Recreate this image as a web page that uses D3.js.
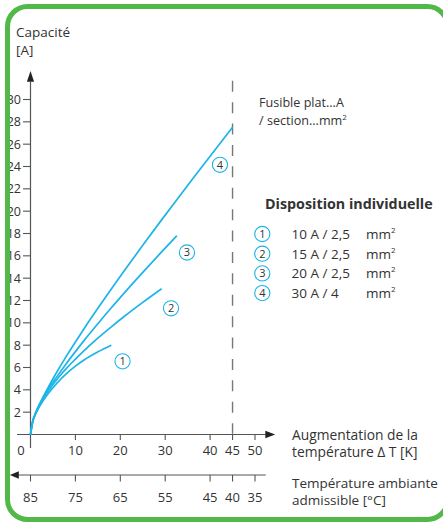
<!DOCTYPE html>
<html><head><meta charset="utf-8">
<script src="https://cdn.jsdelivr.net/npm/d3@7"></script>
<style>
body{margin:0;background:#fff}
text{font-family:"Open Sans", Lato, sans-serif; fill:#333}
</style>
</head><body>
<svg id="chart" width="443" height="526"></svg>
<script>
// ---- data ----
const dT1 = [0, 0.5, 1, 2, 4, 6, 8, 10, 12, 15, 18];
const amp1 = [0, 1.15, 1.7, 2.5, 3.7, 4.65, 5.45, 6.12, 6.7, 7.4, 8.0];
const dT2 = [0, 0.5, 1, 2, 4, 6, 8, 10, 12, 15, 18, 21, 25, 29.2];
const amp2 = [0, 1.18, 1.75, 2.6, 3.93, 5.0, 5.92, 6.75, 7.54, 8.63, 9.64, 10.61, 11.83, 13.05];
const dT3 = [0, 0.5, 1, 2, 4, 6, 8, 10, 12, 15, 18, 21, 25, 29.2, 32.6];
const amp3 = [0, 1.2, 1.78, 2.66, 4.1, 5.25, 6.36, 7.42, 8.45, 9.92, 11.35, 12.73, 14.52, 16.35, 17.8];
const dT4 = [0, 0.5, 1, 2, 4, 6, 8, 10, 12, 15, 18, 21, 25, 29.2, 32.6, 36, 40, 45];
const amp4 = [0, 1.2, 1.8, 2.72, 4.27, 5.69, 7.02, 8.29, 9.52, 11.3, 13.03, 14.73, 16.94, 19.22, 21.03, 22.83, 24.92, 27.51];
const seriesNums = ["1", "2", "3", "4"];
const labelDT = [20.5, 31.3, 34.85, 42.2];
const labelAmp = [6.55, 11.3, 16.3, 24.15];
const legendText = ["10 A / 2,5", "15 A / 2,5", "20 A / 2,5", "30 A / 4"];
const yTicks = [2, 4, 6, 8, 10, 12, 14, 16, 18, 20, 22, 24, 26, 28, 30];
const xTicks = [0, 10, 20, 30, 40, 45, 50];
const ambTicks = [85, 75, 65, 55, 45, 40, 35];
const fuseLimit = 45;

// ---- setup ----
const svg = d3.select("#chart");
const blue = "#1db4e7", axisCol = "#555", green = "#52b847";
const x = d3.scaleLinear().domain([0, 50]).range([30.5, 255]);
const xAmb = d3.scaleLinear().domain([85, 35]).range([30.5, 255]);
const y = d3.scaleLinear().domain([0, 30]).range([434.5, 99.5]);
const g = svg.append("g");

// y axis
g.append("line").attr("x1", x(0)).attr("x2", x(0)).attr("y1", y(31.6)).attr("y2", y(-1.2))
  .attr("stroke", axisCol).attr("stroke-width", 1.2);
g.append("path").attr("d", `M${x(0)},${y(32.55)} L${x(0)-3.6},${y(31.6)} L${x(0)+3.6},${y(31.6)} Z`).attr("fill", "#222");
const yt = g.selectAll(".yt").data(yTicks).enter().append("g").attr("transform", d => `translate(0,${y(d)})`);
yt.append("line").attr("x1", x(0) - 7.5).attr("x2", x(0)).attr("stroke", axisCol).attr("stroke-width", 1.1);
yt.append("text").attr("x", 21).attr("dy", "0.36em").attr("text-anchor", "end").attr("font-size", 12.5).text(d => d);

// top x axis (temperature rise)
const axY = y(0);
g.append("line").attr("x1", x(-3)).attr("x2", x(52.4)).attr("y1", axY).attr("y2", axY).attr("stroke", axisCol).attr("stroke-width", 1.2);
g.append("path").attr("d", `M${x(54.5)},${axY} L${x(52.3)},${axY-3.8} L${x(52.3)},${axY+3.8} Z`).attr("fill", "#222");
const xt = g.selectAll(".xt").data(xTicks).enter().append("g").attr("transform", d => `translate(${x(d)},0)`);
xt.filter(d => d !== 0).append("line").attr("y1", axY).attr("y2", axY + 5.5).attr("stroke", axisCol).attr("stroke-width", 1.1);
xt.append("text").attr("x", d => d === 0 ? -9.5 : 0).attr("y", axY + 16).attr("dy", "0.36em").attr("text-anchor", "middle").attr("font-size", 13).text(d => d);

// bottom axis (ambient temperature)
const ambY = 475;
g.append("line").attr("x1", x(-2.8)).attr("x2", x(52.4)).attr("y1", ambY).attr("y2", ambY).attr("stroke", axisCol).attr("stroke-width", 1.2);
g.append("path").attr("d", `M${x(-4.6)},${ambY} L${x(-2.6)},${ambY-3.8} L${x(-2.6)},${ambY+3.8} Z`).attr("fill", "#222");
const at = g.selectAll(".at").data(ambTicks).enter().append("g").attr("transform", d => `translate(${xAmb(d)},0)`);
at.append("line").attr("y1", ambY).attr("y2", ambY + 6.5).attr("stroke", axisCol).attr("stroke-width", 1.1);
at.append("text").attr("y", ambY + 22).attr("dy", "0.36em").attr("text-anchor", "middle").attr("font-size", 13).text(d => d);

// dashed limit line
g.append("line").attr("x1", x(fuseLimit)).attr("x2", x(fuseLimit)).attr("y1", y(31.68)).attr("y2", y(0.07))
  .attr("stroke", "#777").attr("stroke-width", 1.4).attr("stroke-dasharray", "11,10.4");

// curves
const line = d3.line().x(d => x(d[0])).y(d => y(d[1])).curve(d3.curveMonotoneX);
const series = [[dT1, amp1], [dT2, amp2], [dT3, amp3], [dT4, amp4]];
series.forEach(([xs, ys]) => {
  g.append("path").datum(xs.map((v, i) => [v, ys[i]])).attr("d", line)
    .attr("fill", "none").attr("stroke", blue).attr("stroke-width", 1.7);
});

// circled numbers on plot
function circled(cx, cy, label) {
  g.append("circle").attr("cx", cx).attr("cy", cy).attr("r", 7.6).attr("fill", "#fff").attr("stroke", blue).attr("stroke-width", 1.1);
  g.append("text").attr("x", cx).attr("y", cy).attr("dy", "0.36em").attr("text-anchor", "middle").attr("font-size", 11).text(label);
}
seriesNums.forEach((n, i) => circled(x(labelDT[i]), y(labelAmp[i]), n));

// texts
g.append("text").attr("x", 16).attr("y", 36.5).attr("font-size", 13.5).text("Capacité");
g.append("text").attr("x", 16).attr("y", 55).attr("font-size", 13.5).text("[A]");
g.append("text").attr("x", 259).attr("y", 102).attr("dy", "0.36em").attr("font-size", 12.6).text("Fusible plat...A");
const sec = g.append("text").attr("x", 259).attr("y", 120).attr("dy", "0.36em").attr("font-size", 12.6);
sec.append("tspan").text("/ section...mm");
sec.append("tspan").attr("font-size", 8).attr("dy", "-0.6em").text("2");

g.append("text").attr("x", 265).attr("y", 204).attr("dy", "0.36em").attr("font-size", 14.3).attr("font-weight", "bold").text("Disposition individuelle");
legendText.forEach((t, i) => {
  const ly = 234 + i * 19.7;
  circled(262.3, ly, seriesNums[i]);
  g.append("text").attr("x", 291.5).attr("y", ly).attr("dy", "0.36em").attr("font-size", 13.5).text(t);
  const mm = g.append("text").attr("x", 366).attr("y", ly).attr("dy", "0.36em").attr("font-size", 13.5);
  mm.append("tspan").text("mm");
  mm.append("tspan").attr("font-size", 8).attr("dy", "-0.75em").text("2");
});

g.append("text").attr("x", 292).attr("y", 435).attr("dy", "0.36em").attr("font-size", 13.8).text("Augmentation de la");
g.append("text").attr("x", 292).attr("y", 452.5).attr("dy", "0.36em").attr("font-size", 13.8).text("température Δ T [K]");
g.append("text").attr("x", 292).attr("y", 483).attr("dy", "0.36em").attr("font-size", 13.5).text("Température ambiante");
g.append("text").attr("x", 292).attr("y", 500).attr("dy", "0.36em").attr("font-size", 13.5).text("admissible [°C]");

// green frame (drawn last; overlaps the y labels like the reference)
svg.append("rect").attr("x", 7.5).attr("y", 6.5).attr("width", 440).attr("height", 513).attr("rx", 20)
  .attr("fill", "none").attr("stroke", green).attr("stroke-width", 5);
</script>
</body></html>
